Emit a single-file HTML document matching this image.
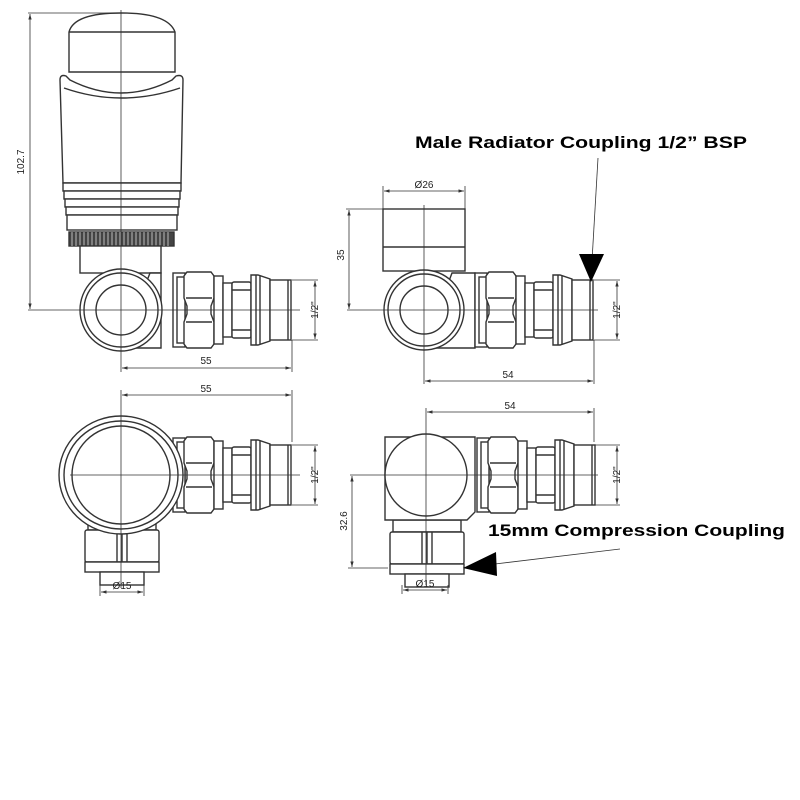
<!DOCTYPE html>
<html><head><style>html,body{margin:0;padding:0;background:#fff}svg{display:block}</style></head><body>
<svg width="800" height="800" viewBox="0 0 800 800" xmlns="http://www.w3.org/2000/svg" font-family="Liberation Sans, sans-serif">
<defs>
<marker id="a" viewBox="0 0 10 10" refX="10" refY="5" markerWidth="7" markerHeight="7" orient="auto-start-reverse"><path d="M0,2L10,5L0,8z" fill="#333"/></marker>
<g id="conn" fill="#fff" stroke="#333" stroke-width="1.4">
  <rect x="173" y="-37" width="12" height="74"/>
  <rect x="177" y="-33" width="8" height="66"/>
  <path d="M187,-38 H211 L214,-34 V-12 L211,-4 V4 L214,12 V34 L211,38 H187 L184,34 V12 L187,4 V-4 L184,-12 V-34Z"/>
  <line x1="186" y1="-12" x2="212" y2="-12"/><line x1="186" y1="12" x2="212" y2="12"/>
  <rect x="214" y="-34" width="9" height="68"/>
  <rect x="223" y="-27" width="9" height="54"/>
  <rect x="232" y="-28" width="19" height="56" rx="2"/>
  <line x1="232" y1="-20" x2="251" y2="-20"/><line x1="232" y1="20" x2="251" y2="20"/>
  <path d="M251,-35 H258 L270,-31 V31 L258,35 H251Z"/>
  <line x1="256" y1="-35" x2="256" y2="35"/><line x1="260" y1="-34" x2="260" y2="34"/>
  <rect x="270" y="-30" width="21" height="60"/>
  <line x1="288" y1="-30" x2="288" y2="30"/>
</g>
<g id="bot" fill="#fff" stroke="#333" stroke-width="1.4">
  <rect x="-33" y="0" width="68" height="12"/>
  <rect x="-36" y="12" width="74" height="32" rx="2"/>
  <line x1="1" y1="12" x2="1" y2="44"/><line x1="-4" y1="12" x2="-4" y2="44"/><line x1="6" y1="12" x2="6" y2="44"/>
  <rect x="-36" y="44" width="74" height="10"/>
  <rect x="-21" y="54" width="44" height="13"/>
</g>
</defs>
<g stroke="#333" stroke-width="1.4" fill="#fff">
<!-- View 1 -->
<path d="M69,32 Q74,13 121,13 Q168,13 175,32 V72 H69Z"/>
<line x1="69" y1="32" x2="175" y2="32"/>
<path d="M60,80 Q60,74 66,76 L70,80 Q121,106 172,80 L176,76 Q183,74 183,80 L181,183 H63Z"/>
<path d="M64,88 Q121,108 180,88" fill="none"/>
<rect x="63" y="183" width="118" height="8"/><rect x="64" y="191" width="116" height="8"/><rect x="65" y="199" width="114" height="8"/><rect x="66" y="207" width="112" height="8"/><rect x="67" y="215" width="110" height="15"/>
<rect x="69" y="232" width="105" height="14" fill="#444"/>
<path d="M72,232v14M76,232v14M80,232v14M84,232v14M88,232v14M92,232v14M96,232v14M100,232v14M104,232v14M108,232v14M112,232v14M116,232v14M120,232v14M124,232v14M128,232v14M132,232v14M136,232v14M140,232v14M144,232v14M148,232v14M152,232v14M156,232v14M160,232v14M164,232v14M168,232v14" stroke="#bbb" stroke-width="1"/>
<rect x="80" y="246" width="81" height="27"/>
<path d="M150,273 L161,273 V348 H121 Z"/>
<circle cx="121" cy="310" r="41"/><circle cx="121" cy="310" r="37"/><circle cx="121" cy="310" r="25"/>
<use href="#conn" transform="translate(0,310)"/>
<!-- View 2 -->
<rect x="383" y="209" width="82" height="62"/><line x1="383" y1="247" x2="465" y2="247"/>
<path d="M452,273 L475,273 V348 H424 Z"/>
<circle cx="424" cy="310" r="40"/><circle cx="424" cy="310" r="36"/><circle cx="424" cy="310" r="24"/>
<use href="#conn" transform="translate(302,310)"/>
<!-- View 3 -->
<use href="#bot" transform="translate(121,518)"/>
<path d="M82,518 L78,510 H162 L158,518Z"/>
<use href="#conn" transform="translate(0,475)"/>
<ellipse cx="121" cy="475" rx="62" ry="59"/><ellipse cx="121" cy="475" rx="57" ry="54"/><circle cx="121" cy="475" r="49"/>
<!-- View 4 -->
<use href="#bot" transform="translate(426,520)"/>
<path d="M385,437 H475 V512 L467,520 H385Z"/>
<use href="#conn" transform="translate(304,475)"/>
<circle cx="426" cy="475" r="41"/>
</g>
<g stroke="#333" stroke-width="0.8" fill="none">
<line x1="121" y1="10" x2="121" y2="372"/><line x1="28" y1="310" x2="300" y2="310"/>
<line x1="28" y1="13" x2="121" y2="13"/>
<line x1="30" y1="14" x2="30" y2="309" marker-start="url(#a)" marker-end="url(#a)"/>
<line x1="292" y1="340" x2="292" y2="372"/>
<line x1="122" y1="368" x2="291" y2="368" marker-start="url(#a)" marker-end="url(#a)"/>
<line x1="292" y1="280" x2="318" y2="280"/><line x1="292" y1="340" x2="318" y2="340"/>
<line x1="315" y1="281" x2="315" y2="339" marker-start="url(#a)" marker-end="url(#a)"/>

<line x1="424" y1="205" x2="424" y2="384"/><line x1="347" y1="310" x2="598" y2="310"/>
<line x1="383" y1="186" x2="383" y2="209"/><line x1="465" y1="186" x2="465" y2="209"/>
<line x1="384" y1="191" x2="464" y2="191" marker-start="url(#a)" marker-end="url(#a)"/>
<line x1="346" y1="209" x2="383" y2="209"/>
<line x1="349" y1="210" x2="349" y2="309" marker-start="url(#a)" marker-end="url(#a)"/>
<line x1="594" y1="340" x2="594" y2="384"/>
<line x1="425" y1="381" x2="593" y2="381" marker-start="url(#a)" marker-end="url(#a)"/>
<line x1="594" y1="280" x2="620" y2="280"/><line x1="594" y1="340" x2="620" y2="340"/>
<line x1="617" y1="281" x2="617" y2="339" marker-start="url(#a)" marker-end="url(#a)"/>

<line x1="121" y1="390" x2="121" y2="588"/><line x1="70" y1="475" x2="300" y2="475"/>
<line x1="292" y1="390" x2="292" y2="442"/>
<line x1="122" y1="395" x2="291" y2="395" marker-start="url(#a)" marker-end="url(#a)"/>
<line x1="292" y1="445" x2="318" y2="445"/><line x1="292" y1="505" x2="318" y2="505"/>
<line x1="315" y1="446" x2="315" y2="504" marker-start="url(#a)" marker-end="url(#a)"/>
<line x1="100" y1="585" x2="100" y2="596"/><line x1="144" y1="585" x2="144" y2="596"/>
<line x1="101" y1="592" x2="143" y2="592" marker-start="url(#a)" marker-end="url(#a)"/>

<line x1="426" y1="408" x2="426" y2="585"/><line x1="350" y1="475" x2="598" y2="475"/>
<line x1="594" y1="408" x2="594" y2="442"/>
<line x1="427" y1="412" x2="593" y2="412" marker-start="url(#a)" marker-end="url(#a)"/>
<line x1="594" y1="445" x2="620" y2="445"/><line x1="594" y1="505" x2="620" y2="505"/>
<line x1="617" y1="446" x2="617" y2="504" marker-start="url(#a)" marker-end="url(#a)"/>
<line x1="348" y1="568" x2="388" y2="568"/>
<line x1="352" y1="476" x2="352" y2="567" marker-start="url(#a)" marker-end="url(#a)"/>
<line x1="402" y1="585" x2="402" y2="594"/><line x1="448" y1="585" x2="448" y2="594"/>
<line x1="403" y1="590" x2="447" y2="590" marker-start="url(#a)" marker-end="url(#a)"/>

<line x1="598" y1="158" x2="591" y2="278"/>
<line x1="495" y1="564" x2="620" y2="549"/>
</g>
<path d="M579,254 H604 L591,282Z" fill="#000"/>
<path d="M463,568 L496,552 L497,576Z" fill="#000"/>
<g fill="#222" font-size="10">
<text x="24" y="162" transform="rotate(-90 24 162)" text-anchor="middle">102.7</text>
<text x="206" y="364" text-anchor="middle">55</text>
<text x="318" y="310" transform="rotate(-90 318 310)" text-anchor="middle">1/2"</text>
<text x="424" y="188" text-anchor="middle">Ø26</text>
<text x="344" y="255" transform="rotate(-90 344 255)" text-anchor="middle">35</text>
<text x="508" y="378" text-anchor="middle">54</text>
<text x="620" y="310" transform="rotate(-90 620 310)" text-anchor="middle">1/2"</text>
<text x="206" y="392" text-anchor="middle">55</text>
<text x="318" y="475" transform="rotate(-90 318 475)" text-anchor="middle">1/2"</text>
<text x="122" y="589" text-anchor="middle">Ø15</text>
<text x="510" y="409" text-anchor="middle">54</text>
<text x="620" y="475" transform="rotate(-90 620 475)" text-anchor="middle">1/2"</text>
<text x="347" y="521" transform="rotate(-90 347 521)" text-anchor="middle">32.6</text>
<text x="425" y="587" text-anchor="middle">Ø15</text>
</g>
<g fill="#000" font-weight="bold" font-size="17">
<text x="415" y="148" textLength="332" lengthAdjust="spacingAndGlyphs">Male Radiator Coupling 1/2” BSP</text>
<text x="488" y="536" textLength="297" lengthAdjust="spacingAndGlyphs">15mm Compression Coupling</text>
</g>
</svg>
</body></html>
